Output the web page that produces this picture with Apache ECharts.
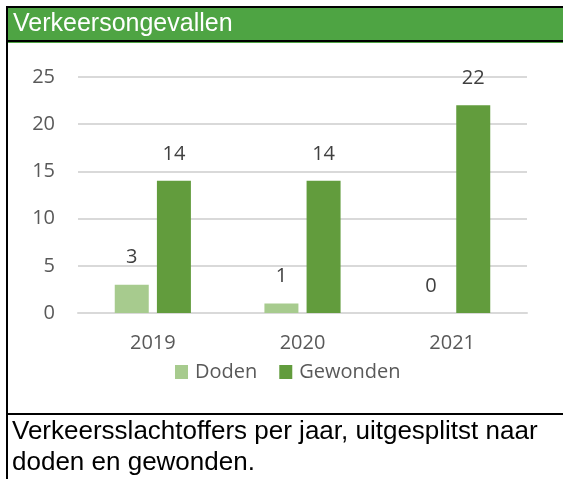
<!DOCTYPE html>
<html>
<head>
<meta charset="utf-8">
<script src="https://cdn.jsdelivr.net/npm/echarts@6/dist/echarts.min.js"></script>
<style>
  html, body { margin: 0; padding: 0; background: #fff; }
  #main { width: 563px; height: 479px; }
</style>
</head>
<body>
<div id="main"></div>
<script>
var jaren = ['2019', '2020', '2021'];
var doden = [3, 1, 0];
var gewonden = [14, 14, 22];
var yTicks = [0, 5, 10, 15, 20, 25];

var myChart = echarts.init(document.getElementById('main'));

var labelStyle = {
    show: true,
    position: 'top',
    distance: 17,
    color: '#404040',
    fontSize: 20,
    fontFamily: 'Open Sans'
};

var option = {
    animation: false,
    textStyle: { fontFamily: 'Open Sans' },
    grid: { left: 78, right: 36, top: 77, height: 236 },
    legend: {
        data: ['Doden', 'Gewonden'],
        top: 362,
        left: 175,
        padding: 0,
        itemWidth: 13,
        itemHeight: 14,
        itemGap: 22,
        icon: 'rect',
        textStyle: { color: '#595959', fontSize: 20, fontFamily: 'Open Sans', padding: [0, 0, 0, 2] }
    },
    xAxis: {
        type: 'category',
        data: jaren,
        axisLine: { show: true, lineStyle: { color: '#d9d9d9', width: 2 } },
        axisTick: { show: false },
        axisLabel: { color: '#595959', fontSize: 20, margin: 20 }
    },
    yAxis: {
        type: 'value',
        min: yTicks[0],
        max: yTicks[yTicks.length - 1],
        interval: 5,
        axisLine: { show: false },
        axisTick: { show: false },
        splitLine: { lineStyle: { color: '#d9d9d9', width: 2 } },
        axisLabel: { color: '#595959', fontSize: 20, margin: 23 }
    },
    series: [
        {
            name: 'Doden',
            type: 'bar',
            data: doden,
            barWidth: 34,
            barGap: '24%',
            itemStyle: { color: '#a7cb8e' },
            label: labelStyle
        },
        {
            name: 'Gewonden',
            type: 'bar',
            data: gewonden,
            barWidth: 34,
            itemStyle: { color: '#629c3d' },
            label: labelStyle
        }
    ],
    graphic: [
        // kop en randen
        { type: 'rect', shape: { x: 8, y: 7, width: 555, height: 34 }, style: { fill: '#4ea443' }, silent: true },
        { type: 'rect', shape: { x: 6, y: 6, width: 557, height: 2 }, style: { fill: '#000' }, silent: true },
        { type: 'rect', shape: { x: 6, y: 40, width: 557, height: 2 }, style: { fill: '#000' }, silent: true },
        { type: 'rect', shape: { x: 8, y: 42, width: 555, height: 1 }, style: { fill: '#4ea443' }, silent: true },
        { type: 'rect', shape: { x: 6, y: 6, width: 2, height: 473 }, style: { fill: '#000' }, silent: true },
        { type: 'rect', shape: { x: 6, y: 413, width: 557, height: 2 }, style: { fill: '#000' }, silent: true },
        {
            type: 'text', silent: true,
            style: { x: 13, y: 24, verticalAlign: 'middle', text: 'Verkeersongevallen', fill: '#fff', fontSize: 25, fontFamily: 'Liberation Sans' }
        },
        {
            type: 'text', silent: true,
            style: { x: 12, y: 432, verticalAlign: 'middle', text: 'Verkeersslachtoffers per jaar, uitgesplitst naar', fill: '#000', fontSize: 26, fontFamily: 'Liberation Sans' }
        },
        {
            type: 'text', silent: true,
            style: { x: 12, y: 463, verticalAlign: 'middle', text: 'doden en gewonden.', fill: '#000', fontSize: 26, fontFamily: 'Liberation Sans' }
        }
    ]
};

myChart.setOption(option);
</script>
</body>
</html>
